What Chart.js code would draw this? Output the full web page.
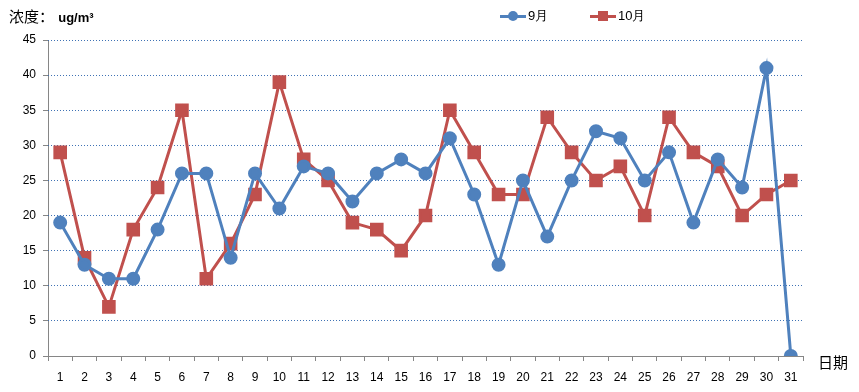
<!DOCTYPE html>
<html>
<head>
<meta charset="utf-8">
<script src="https://cdn.jsdelivr.net/npm/chart.js@4/dist/chart.umd.min.js"></script>
<style>
	html, body { margin: 0; padding: 0; background: #fff; }
	#wrap { position: relative; width: 859px; height: 392px; font-family: "Liberation Sans", Arial, sans-serif; }
	#unit { position: absolute; left: 9px; top: 5px; font-size: 15px; color: #000; }
	#unit b { font-size: 13px; }
	#xname { position: absolute; left: 818px; top: 351px; font-size: 15px; color: #000; font-family: "Noto Sans CJK SC", sans-serif; }
	#legend { position: absolute; left: 500px; top: 7px; font-size: 13px; }
	#legend span.item { position: absolute; top: 0; white-space: nowrap; }
	#legend i.ln { position: absolute; top: 8px; width: 26px; height: 3px; }
	#legend i.mk { position: absolute; }
	#legend span.tx { position: absolute; left: 28px; top: 0; }
</style>
</head>
<body>
<div id="wrap">
	<canvas id="line-chart" width="859" height="392"></canvas>
	<div id="unit"><span style="font-family:'Noto Sans CJK SC'">浓度：</span> <b>ug/m³</b></div>
	<div id="legend"></div>
	<div id="xname">日期</div>
</div>
<script>
// Data.
var days = ["1","2","3","4","5","6","7","8","9","10","11","12","13","14","15","16","17","18","19","20","21","22","23","24","25","26","27","28","29","30","31"];
var sep = [19,13,11,11,18,26,26,14,26,21,27,26,22,26,28,26,31,23,13,25,17,25,32,31,25,29,19,28,24,41,0];
var oct = [29,14,7,18,24,35,11,16,23,39,28,25,19,18,15,20,35,29,23,23,34,29,25,27,20,34,29,27,20,23,25];
var seriesNames = ["9月", "10月"];
var blue = "#4F81BD";
var red = "#C0504D";
var axisGray = "#868686";

var chart = new Chart(document.getElementById("line-chart"), {
	type: 'line',
	data: {
		labels: days,
		datasets: [
			{
				label: seriesNames[0],
				data: sep,
				borderColor: blue,
				backgroundColor: blue,
				borderWidth: 3,
				pointStyle: 'circle',
				pointRadius: 5.5,
				tension: 0
			},
			{
				label: seriesNames[1],
				data: oct,
				borderColor: red,
				backgroundColor: red,
				borderWidth: 3,
				pointStyle: 'rect',
				pointRadius: 7.5,
				tension: 0
			}
		]
	},
	options: {
		responsive: false,
		animation: false,
		layout: { padding: { left: 0, top: 40, right: 56, bottom: 0 } },
		plugins: {
			legend: { display: false },
			title: { display: false },
			tooltip: { enabled: false }
		},
		scales: {
			x: {
				offset: true,
				afterFit: function (scale) { scale.height = 36; },
				// first boundary line doubles as the solid y axis line
				grid: {
					display: true,
					drawOnChartArea: true,
					offset: true,
					color: function (c) { return c.index === 0 ? axisGray : "rgba(0,0,0,0)"; },
					tickLength: 5,
					tickColor: axisGray
				},
				border: { color: axisGray, width: 1 },
				ticks: { color: "#000", padding: 9, maxRotation: 0, autoSkip: false, font: { family: "Liberation Sans", size: 12 } }
			},
			y: {
				min: 0,
				max: 45,
				afterFit: function (scale) { scale.width = 48; },
				grid: {
					color: function (c) { return c.tick && c.tick.value === 0 ? "rgba(0,0,0,0)" : "#3F72B5"; },
					tickColor: axisGray,
					tickLength: 5,
					tickBorderDash: [],
					lineWidth: 1
				},
				border: { display: false, dash: [1, 2] },
				ticks: { stepSize: 5, color: "#000", padding: 7, font: { family: "Liberation Sans", size: 12 } }
			}
		}
	}
});

// Legend.
var legend = document.getElementById("legend");
var offsets = [0, 90];
chart.data.datasets.forEach(function (ds, i) {
	var item = document.createElement("span");
	item.className = "item";
	item.style.left = offsets[i] + "px";
	var mk = ds.pointStyle === 'rect'
		? "<i class='mk' style='left:8px;top:4px;width:10px;height:10px;background:" + ds.borderColor + "'></i>"
		: "<i class='mk' style='left:8px;top:4px;width:10px;height:10px;border-radius:5px;background:" + ds.borderColor + "'></i>";
	item.innerHTML = "<i class='ln' style='background:" + ds.borderColor + "'></i>" + mk + "<span class='tx'>" + ds.label + "</span>";
	legend.appendChild(item);
});
</script>
</body>
</html>
